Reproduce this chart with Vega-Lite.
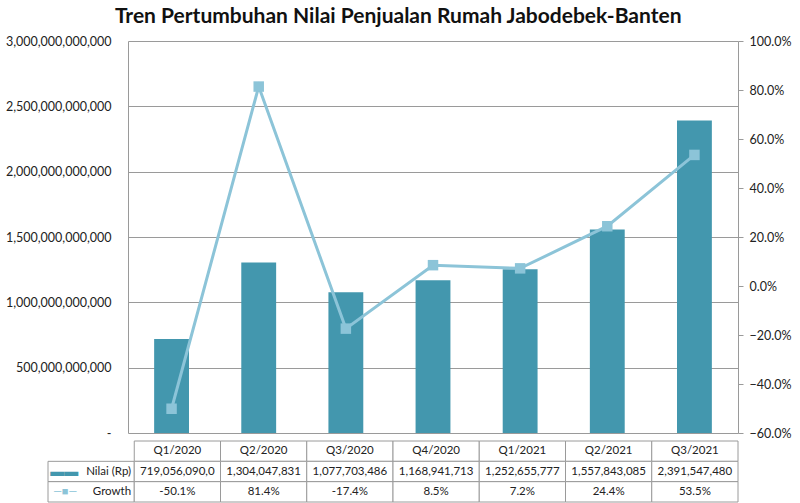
{
  "$schema": "https://vega.github.io/schema/vega-lite/v6.json",
  "background": "white",
  "padding": {"left": 5, "right": 5, "top": 6, "bottom": 1},
  "title": {"text": "Tren Pertumbuhan Nilai Penjualan Rumah Jabodebek-Banten", "font": "Lato", "fontSize": 21, "fontWeight": "bold", "color": "#111111", "anchor": "middle", "offset": 8},
  "config": {"view": {"stroke": null}, "font": "Lato", "concat": {"spacing": 0}},
  "spacing": 0,
  "datasets": {
    "main": [
      {"q": "Q1/2020", "nilai": 719056090000, "growth": -0.501},
      {"q": "Q2/2020", "nilai": 1304047831000, "growth": 0.814},
      {"q": "Q3/2020", "nilai": 1077703486000, "growth": -0.174},
      {"q": "Q4/2020", "nilai": 1168941713000, "growth": 0.085},
      {"q": "Q1/2021", "nilai": 1252655777000, "growth": 0.072},
      {"q": "Q2/2021", "nilai": 1557843085000, "growth": 0.244},
      {"q": "Q3/2021", "nilai": 2391547480000, "growth": 0.535}
    ],
    "table": [
      {"col": "Q1/2020", "row": "cat", "text": "Q1/2020"},
      {"col": "Q2/2020", "row": "cat", "text": "Q2/2020"},
      {"col": "Q3/2020", "row": "cat", "text": "Q3/2020"},
      {"col": "Q4/2020", "row": "cat", "text": "Q4/2020"},
      {"col": "Q1/2021", "row": "cat", "text": "Q1/2021"},
      {"col": "Q2/2021", "row": "cat", "text": "Q2/2021"},
      {"col": "Q3/2021", "row": "cat", "text": "Q3/2021"},
      {"col": "legend", "row": "Nilai (Rp)", "text": "Nilai (Rp)"},
      {"col": "Q1/2020", "row": "Nilai (Rp)", "text": "719,056,090,0"},
      {"col": "Q2/2020", "row": "Nilai (Rp)", "text": "1,304,047,831"},
      {"col": "Q3/2020", "row": "Nilai (Rp)", "text": "1,077,703,486"},
      {"col": "Q4/2020", "row": "Nilai (Rp)", "text": "1,168,941,713"},
      {"col": "Q1/2021", "row": "Nilai (Rp)", "text": "1,252,655,777"},
      {"col": "Q2/2021", "row": "Nilai (Rp)", "text": "1,557,843,085"},
      {"col": "Q3/2021", "row": "Nilai (Rp)", "text": "2,391,547,480"},
      {"col": "legend", "row": "Growth", "text": "Growth"},
      {"col": "Q1/2020", "row": "Growth", "text": "-50.1%"},
      {"col": "Q2/2020", "row": "Growth", "text": "81.4%"},
      {"col": "Q3/2020", "row": "Growth", "text": "-17.4%"},
      {"col": "Q4/2020", "row": "Growth", "text": "8.5%"},
      {"col": "Q1/2021", "row": "Growth", "text": "7.2%"},
      {"col": "Q2/2021", "row": "Growth", "text": "24.4%"},
      {"col": "Q3/2021", "row": "Growth", "text": "53.5%"}
    ]
  },
  "vconcat": [
    {
      "width": 610,
      "height": 392,
      "data": {"name": "main"},
      "encoding": {
        "x": {"field": "q", "type": "ordinal", "sort": null, "axis": null, "scale": {"paddingInner": 0.6, "paddingOuter": 0.3}}
      },
      "layer": [
        {
          "mark": {"type": "bar", "color": "#4397AE"},
          "encoding": {
            "y": {
              "field": "nilai", "type": "quantitative",
              "scale": {"domain": [0, 3000000000000]},
              "axis": {
                "title": null,
                "values": [0, 500000000000, 1000000000000, 1500000000000, 2000000000000, 2500000000000, 3000000000000],
                "labelExpr": "datum.value == 0 ? '-' : format(datum.value, ',.0f')",
                "grid": true, "gridColor": "#9a9a9a", "ticks": false,
                "domainColor": "#9a9a9a", "labelPadding": 17, "labelFontSize": 12.5, "labelColor": "#222222"
              }
            }
          }
        },
        {
          "encoding": {
            "y": {
              "field": "growth", "type": "quantitative",
              "scale": {"domain": [-0.6, 1.0]},
              "axis": {
                "title": null, "orient": "right", "format": ".1%",
                "values": [-0.6, -0.4, -0.2, 0, 0.2, 0.4, 0.6, 0.8, 1.0],
                "grid": false, "tickSize": 5, "tickColor": "#9a9a9a", "domainColor": "#9a9a9a",
                "labelPadding": 6, "labelFontSize": 12.5, "labelColor": "#222222"
              }
            }
          },
          "layer": [
            {"mark": {"type": "line", "color": "#8CC4D8", "strokeWidth": 3}},
            {"mark": {"type": "point", "shape": "square", "filled": true, "size": 110, "color": "#8CC4D8", "opacity": 1}}
          ]
        }
      ],
      "resolve": {"scale": {"y": "independent"}}
    },
    {
      "width": 610,
      "height": 61,
      "data": {"name": "table"},
      "encoding": {
        "x": {"field": "col", "type": "nominal", "sort": ["legend", "Q1/2020", "Q2/2020", "Q3/2020", "Q4/2020", "Q1/2021", "Q2/2021", "Q3/2021"], "scale": {"range": [-80, 610], "paddingInner": 0, "paddingOuter": 0}, "axis": null},
        "y": {"field": "row", "type": "nominal", "sort": ["cat", "Nilai (Rp)", "Growth"], "scale": {"paddingInner": 0, "paddingOuter": 0}, "axis": null}
      },
      "layer": [
        {"mark": {"type": "rect", "fill": "white", "stroke": "#9a9a9a", "strokeWidth": 1}},
        {
          "transform": [{"filter": "datum.col != 'legend'"}],
          "mark": {"type": "text", "fontSize": 11.5, "color": "#222222"},
          "encoding": {"text": {"field": "text"}}
        },
        {
          "transform": [{"filter": "datum.col == 'legend'"}],
          "mark": {"type": "text", "fontSize": 11.5, "color": "#222222", "align": "right", "dx": 40},
          "encoding": {"text": {"field": "text"}}
        },
        {
          "transform": [{"filter": "datum.col == 'legend' && datum.row == 'Nilai (Rp)'"}],
          "mark": {"type": "text", "text": "▬▬", "fontSize": 14, "color": "#4397AE", "align": "left", "dx": -41}
        },
        {
          "transform": [{"filter": "datum.col == 'legend' && datum.row == 'Growth'"}],
          "mark": {"type": "text", "text": "—■—", "fontSize": 11, "color": "#8CC4D8", "align": "left", "dx": -38}
        }
      ]
    }
  ]
}
